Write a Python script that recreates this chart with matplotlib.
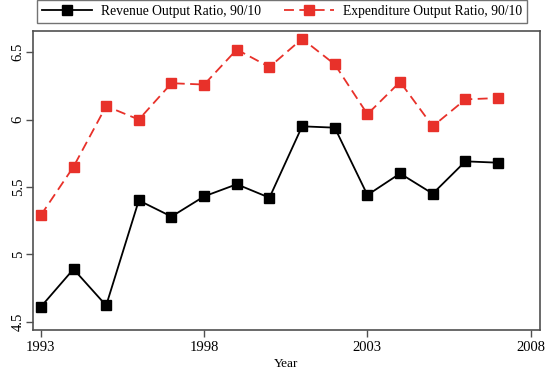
import matplotlib
matplotlib.use("Agg")
import matplotlib.pyplot as plt

plt.rcParams['font.family'] = ['Liberation Serif', 'DejaVu Serif']

years = [1993, 1994, 1995, 1996, 1997, 1998, 1999, 2000,
         2001, 2002, 2003, 2004, 2005, 2006, 2007]
revenue_ratio = [4.61, 4.89, 4.62, 5.40, 5.28, 5.43, 5.52, 5.42,
                 5.95, 5.94, 5.44, 5.60, 5.45, 5.69, 5.68]
expenditure_ratio = [5.29, 5.65, 6.10, 6.00, 6.27, 6.26, 6.52, 6.39,
                     6.60, 6.41, 6.04, 6.28, 5.95, 6.15, 6.16]
x_ticks = [1993, 1998, 2003, 2008]
y_ticks = [4.5, 5, 5.5, 6, 6.5]
y_tick_labels = ["4.5", "5", "5.5", "6", "6.5"]

fig = plt.figure(figsize=(5.52, 3.74), dpi=100)
ax = fig.add_axes([0.0598, 0.1176, 0.9182, 0.8004])

frame_col = "#505050"
red = "#e8312a"

l1, = ax.plot(years, revenue_ratio, color="black", lw=1.3, marker="s",
              markersize=6.8, label="Revenue Output Ratio, 90/10")
l2, = ax.plot(years, expenditure_ratio, color=red, lw=1.3, ls=(0, (5.5, 3)),
              marker="s", markersize=6.8, label="Expenditure Output Ratio, 90/10")

ax.set_xlim(1992.76, 2008.28)
ax.set_ylim(4.438, 6.66)
ax.set_xticks(x_ticks)
ax.set_yticks(y_ticks)
ax.set_yticklabels(y_tick_labels, rotation=90, va="center")
ax.tick_params(direction="out", length=5, width=1, color=frame_col,
               labelsize=10.5, pad=3)
ax.tick_params(axis="y", pad=1)
for s in ax.spines.values():
    s.set_color(frame_col)
    s.set_linewidth(1.2)

ax.set_xlabel("Year", fontsize=9.5, labelpad=2.5)

leg = fig.legend(handles=[l1, l2], loc="upper left",
                 bbox_to_anchor=(37 / 552, 1.0), ncol=2, fontsize=9.85,
                 frameon=True, fancybox=False, handlelength=3.65,
                 columnspacing=1.68, borderpad=0.35, handletextpad=0.66,
                 borderaxespad=0.0)
leg.get_frame().set_edgecolor(frame_col)
leg.get_frame().set_linewidth(1.0)

fig.savefig("out.png", dpi=100, facecolor="white")
